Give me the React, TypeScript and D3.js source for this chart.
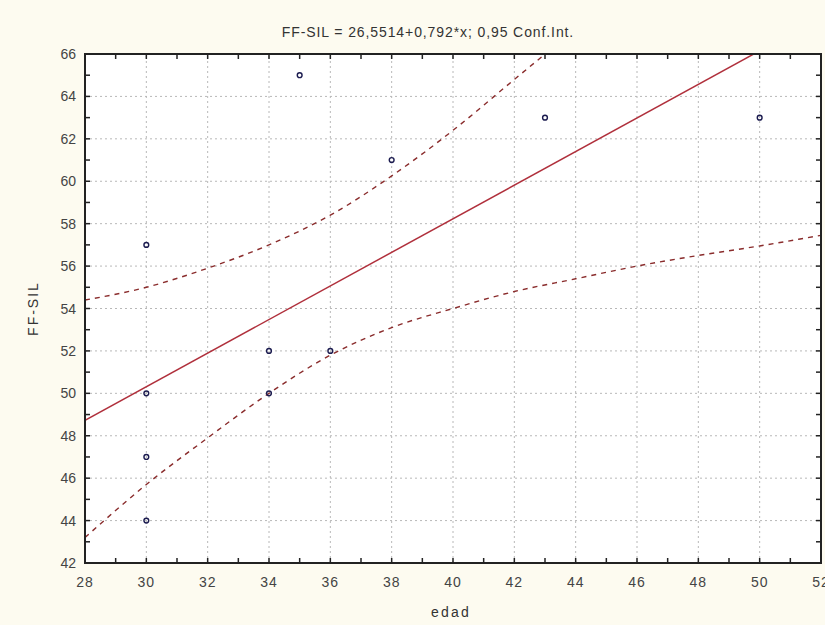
import { useEffect, useRef } from 'react';
import * as d3 from 'd3';

// scatter data: edad vs FF-SIL
const edad = [30, 30, 30, 30, 34, 34, 35, 36, 38, 43, 50];
const ffsil = [57, 50, 47, 44, 52, 50, 65, 52, 61, 63, 63];

// regression FF-SIL = 26.5514 + 0.792*x
const intercept = 26.5514;
const slope = 0.792;

// 95% confidence band
const bandX = [28, 30, 32, 34, 36, 38, 40, 42, 44, 46, 48, 50, 52];
const upperBand = [54.4, 55.0, 55.9, 57.0, 58.4, 60.25, 62.4, 64.8, 67.2, 69.7, 72.2, 74.7, 77.2];
const lowerBand = [43.2, 45.7, 47.9, 50.0, 51.8, 53.1, 54.0, 54.8, 55.4, 56.0, 56.5, 56.95, 57.45];

const xTicks = [28, 30, 32, 34, 36, 38, 40, 42, 44, 46, 48, 50, 52];
const yTicks = [42, 44, 46, 48, 50, 52, 54, 56, 58, 60, 62, 64, 66];

const title = 'FF-SIL = 26,5514+0,792*x; 0,95 Conf.Int.';
const xLabel = 'edad';
const yLabel = 'FF-SIL';

const App = () => {
  const ref = useRef<SVGSVGElement>(null);

  useEffect(() => {
    const W = 825, H = 625;
    const m = { top: 54, right: 4, bottom: 62, left: 85 };
    const svg = d3.select(ref.current).attr('width', W).attr('height', H);
    svg.selectAll('*').remove();

    const font = '"Liberation Sans", Arial, sans-serif';

    svg.append('rect').attr('width', W).attr('height', H).attr('fill', '#fdfbf0');

    const x = d3.scaleLinear().domain([28, 52]).range([m.left, W - m.right]);
    const y = d3.scaleLinear().domain([42, 66]).range([H - m.bottom, m.top]);

    const x0 = x(28), x1 = x(52), y0 = y(42), y1 = y(66);

    svg.append('rect')
      .attr('x', x0).attr('y', y1)
      .attr('width', x1 - x0).attr('height', y0 - y1)
      .attr('fill', '#ffffff');

    svg.append('defs').append('clipPath').attr('id', 'plotclip')
      .append('rect')
      .attr('x', x0).attr('y', y1)
      .attr('width', x1 - x0).attr('height', y0 - y1);

    // grid
    const grid = svg.append('g')
      .attr('stroke', '#b8b8b8')
      .attr('stroke-width', 1)
      .attr('stroke-dasharray', '2,3');
    xTicks.slice(1, -1).forEach(t => {
      grid.append('line').attr('x1', x(t)).attr('x2', x(t)).attr('y1', y0).attr('y2', y1);
    });
    yTicks.slice(1, -1).forEach(t => {
      grid.append('line').attr('x1', x0).attr('x2', x1).attr('y1', y(t)).attr('y2', y(t));
    });

    const plot = svg.append('g').attr('clip-path', 'url(#plotclip)');

    // bands
    const band = d3.line<number>()
      .x((_, i) => x(bandX[i]))
      .y(d => y(d))
      .curve(d3.curveMonotoneX);

    [upperBand, lowerBand].forEach(b => {
      plot.append('path')
        .attr('d', band(b))
        .attr('fill', 'none')
        .attr('stroke', '#8a2c2c')
        .attr('stroke-width', 1.4)
        .attr('stroke-dasharray', '5,5');
    });

    // regression line
    plot.append('line')
      .attr('x1', x(28)).attr('y1', y(intercept + slope * 28))
      .attr('x2', x(52)).attr('y2', y(intercept + slope * 52))
      .attr('stroke', '#b0303c')
      .attr('stroke-width', 1.5);

    // points
    plot.selectAll('circle.pt')
      .data(edad)
      .enter().append('circle')
      .attr('class', 'pt')
      .attr('cx', d => x(d))
      .attr('cy', (_, i) => y(ffsil[i]))
      .attr('r', 2.4)
      .attr('fill', 'none')
      .attr('stroke', '#1c1c50')
      .attr('stroke-width', 1.4);

    // frame
    svg.append('rect')
      .attr('x', x0).attr('y', y1)
      .attr('width', x1 - x0).attr('height', y0 - y1)
      .attr('fill', 'none')
      .attr('stroke', '#222')
      .attr('stroke-width', 2);

    // inward ticks every unit
    const tk = svg.append('g').attr('stroke', '#222').attr('stroke-width', 1.5);
    d3.range(29, 52).forEach(t => {
      tk.append('line').attr('x1', x(t)).attr('x2', x(t)).attr('y1', y0).attr('y2', y0 - 5);
      tk.append('line').attr('x1', x(t)).attr('x2', x(t)).attr('y1', y1).attr('y2', y1 + 5);
    });
    d3.range(43, 66).forEach(t => {
      tk.append('line').attr('x1', x0).attr('x2', x0 + 5).attr('y1', y(t)).attr('y2', y(t));
      tk.append('line').attr('x1', x1).attr('x2', x1 - 5).attr('y1', y(t)).attr('y2', y(t));
    });

    // tick labels
    svg.append('g')
      .selectAll('text')
      .data(xTicks)
      .enter().append('text')
      .attr('x', d => x(d))
      .attr('y', y0 + 24)
      .attr('text-anchor', 'middle')
      .attr('font-family', font)
      .attr('font-size', 14)
      .attr('letter-spacing', 1)
      .attr('fill', '#444')
      .text(d => d);

    svg.append('g')
      .selectAll('text')
      .data(yTicks)
      .enter().append('text')
      .attr('x', x0 - 9)
      .attr('y', d => y(d) + 5)
      .attr('text-anchor', 'end')
      .attr('font-family', font)
      .attr('font-size', 14)
      .attr('fill', '#444')
      .text(d => d);

    // labels
    svg.append('text')
      .attr('x', (x0 + x1) / 2 - 2)
      .attr('y', 617)
      .attr('text-anchor', 'middle')
      .attr('font-family', font)
      .attr('font-size', 14)
      .attr('letter-spacing', 2.2)
      .attr('fill', '#333')
      .text(xLabel);

    svg.append('text')
      .attr('transform', `translate(38,${(y0 + y1) / 2}) rotate(-90)`)
      .attr('text-anchor', 'middle')
      .attr('font-family', font)
      .attr('font-size', 14)
      .attr('letter-spacing', 2)
      .attr('fill', '#333')
      .text(yLabel);

    svg.append('text')
      .attr('x', 428)
      .attr('y', 37)
      .attr('text-anchor', 'middle')
      .attr('font-family', font)
      .attr('font-size', 14)
      .attr('letter-spacing', 0.9)
      .attr('fill', '#333')
      .text(title);
  }, []);

  return (
    <svg ref={ref} style={{ position: 'absolute', left: 0, top: 0, display: 'block' }}></svg>
  );
};

export default App;
